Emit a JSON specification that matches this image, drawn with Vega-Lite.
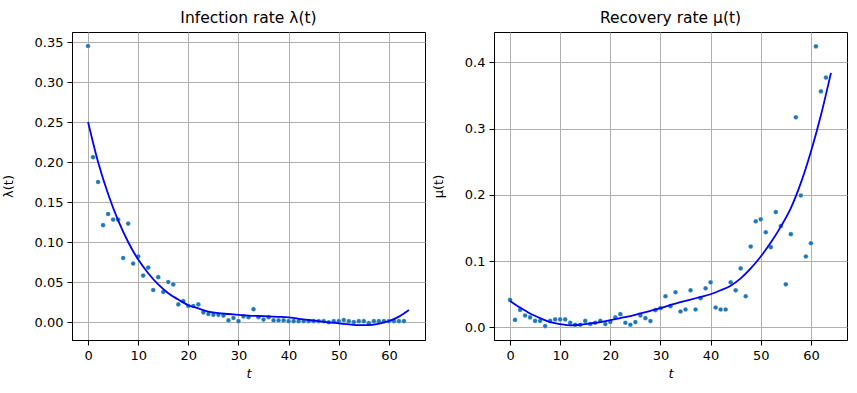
{
  "$schema": "https://vega.github.io/schema/vega-lite/v6.json",
  "background": "white",
  "padding": {"left": 2, "top": 10, "right": 5, "bottom": 5},
  "spacing": 6,
  "config": {
    "font": "DejaVu Sans",
    "view": {"stroke": "black", "strokeWidth": 1},
    "axis": {
      "domainColor": "black", "domainWidth": 1,
      "tickColor": "black", "tickSize": 5, "tickWidth": 1,
      "labelPadding": 4, "labelFontSize": 13, "labelColor": "black", "labelFont": "DejaVu Sans",
      "gridColor": "#b0b0b0", "gridWidth": 1, "gridOpacity": 1,
      "titleFontSize": 13, "titleFontWeight": "normal", "titleColor": "black", "titleFont": "DejaVu Sans"
    },
    "title": {"fontSize": 15.5, "fontWeight": "normal", "font": "DejaVu Sans", "color": "black", "offset": 6}
  },
  "datasets": {
    "lam_pts": [
      {"t": 0, "v": 0.345}, {"t": 1, "v": 0.206}, {"t": 2, "v": 0.175}, {"t": 3, "v": 0.121},
      {"t": 4, "v": 0.135}, {"t": 5, "v": 0.128}, {"t": 6, "v": 0.128}, {"t": 7, "v": 0.080},
      {"t": 8, "v": 0.123}, {"t": 9, "v": 0.073}, {"t": 10, "v": 0.082}, {"t": 11, "v": 0.058},
      {"t": 12, "v": 0.068}, {"t": 13, "v": 0.040}, {"t": 14, "v": 0.056}, {"t": 15, "v": 0.0375},
      {"t": 16, "v": 0.050}, {"t": 17, "v": 0.047}, {"t": 18, "v": 0.022}, {"t": 19, "v": 0.026},
      {"t": 20, "v": 0.020}, {"t": 21, "v": 0.020}, {"t": 22, "v": 0.022}, {"t": 23, "v": 0.012},
      {"t": 24, "v": 0.010}, {"t": 25, "v": 0.009}, {"t": 26, "v": 0.009}, {"t": 27, "v": 0.008},
      {"t": 28, "v": 0.002}, {"t": 29, "v": 0.005}, {"t": 30, "v": 0.001}, {"t": 31, "v": 0.007},
      {"t": 32, "v": 0.006}, {"t": 33, "v": 0.016}, {"t": 34, "v": 0.006}, {"t": 35, "v": 0.003},
      {"t": 36, "v": 0.006}, {"t": 37, "v": 0.002}, {"t": 38, "v": 0.002}, {"t": 39, "v": 0.002},
      {"t": 40, "v": 0.001}, {"t": 41, "v": 0.001}, {"t": 42, "v": 0.001}, {"t": 43, "v": 0.001},
      {"t": 44, "v": 0.001}, {"t": 45, "v": 0.001}, {"t": 46, "v": 0.001}, {"t": 47, "v": 0.001},
      {"t": 48, "v": -0.0003}, {"t": 49, "v": 0.001}, {"t": 50, "v": 0.001}, {"t": 51, "v": 0.0025},
      {"t": 52, "v": 0.001}, {"t": 53, "v": 0.0}, {"t": 54, "v": 0.001}, {"t": 55, "v": 0.001},
      {"t": 56, "v": -0.0015}, {"t": 57, "v": 0.001}, {"t": 58, "v": 0.001}, {"t": 59, "v": 0.001},
      {"t": 60, "v": 0.001}, {"t": 61, "v": 0.001}, {"t": 62, "v": 0.001}, {"t": 63, "v": 0.001}
    ],
    "lam_fit": [
      {"t": 0, "v": 0.250}, {"t": 2, "v": 0.200}, {"t": 4, "v": 0.160}, {"t": 6, "v": 0.127},
      {"t": 8, "v": 0.100}, {"t": 10, "v": 0.078}, {"t": 12, "v": 0.061}, {"t": 14, "v": 0.047},
      {"t": 16, "v": 0.036}, {"t": 18, "v": 0.028}, {"t": 20, "v": 0.021}, {"t": 22, "v": 0.017},
      {"t": 24, "v": 0.013}, {"t": 26, "v": 0.011}, {"t": 28, "v": 0.010}, {"t": 30, "v": 0.009},
      {"t": 32, "v": 0.008}, {"t": 34, "v": 0.0075}, {"t": 36, "v": 0.007}, {"t": 38, "v": 0.0065},
      {"t": 40, "v": 0.0058}, {"t": 42, "v": 0.004}, {"t": 44, "v": 0.0025}, {"t": 46, "v": 0.001},
      {"t": 48, "v": -0.0005}, {"t": 50, "v": -0.0017}, {"t": 52, "v": -0.003}, {"t": 54, "v": -0.004},
      {"t": 56, "v": -0.004}, {"t": 58, "v": -0.002}, {"t": 60, "v": 0.001}, {"t": 62, "v": 0.0067},
      {"t": 64, "v": 0.015}
    ],
    "mu_pts": [
      {"t": 0, "v": 0.0415}, {"t": 1, "v": 0.0113}, {"t": 2, "v": 0.0264}, {"t": 3, "v": 0.018},
      {"t": 4, "v": 0.015}, {"t": 5, "v": 0.0098}, {"t": 6, "v": 0.0098}, {"t": 7, "v": 0.002},
      {"t": 8, "v": 0.0098}, {"t": 9, "v": 0.012}, {"t": 10, "v": 0.012}, {"t": 11, "v": 0.012},
      {"t": 12, "v": 0.007}, {"t": 13, "v": 0.004}, {"t": 14, "v": 0.004}, {"t": 15, "v": 0.0098},
      {"t": 16, "v": 0.005}, {"t": 17, "v": 0.007}, {"t": 18, "v": 0.0098}, {"t": 19, "v": 0.005},
      {"t": 20, "v": 0.008}, {"t": 21, "v": 0.015}, {"t": 22, "v": 0.020}, {"t": 23, "v": 0.007},
      {"t": 24, "v": 0.004}, {"t": 25, "v": 0.008}, {"t": 26, "v": 0.018}, {"t": 27, "v": 0.014},
      {"t": 28, "v": 0.0095}, {"t": 29, "v": 0.026}, {"t": 30, "v": 0.029}, {"t": 31, "v": 0.047},
      {"t": 32, "v": 0.032}, {"t": 33, "v": 0.053}, {"t": 34, "v": 0.024}, {"t": 35, "v": 0.027},
      {"t": 36, "v": 0.056}, {"t": 37, "v": 0.027}, {"t": 38, "v": 0.044}, {"t": 39, "v": 0.059},
      {"t": 40, "v": 0.068}, {"t": 41, "v": 0.030}, {"t": 42, "v": 0.027}, {"t": 43, "v": 0.027},
      {"t": 44, "v": 0.068}, {"t": 45, "v": 0.056}, {"t": 46, "v": 0.089}, {"t": 47, "v": 0.047},
      {"t": 48, "v": 0.122}, {"t": 49, "v": 0.160}, {"t": 50, "v": 0.163}, {"t": 51, "v": 0.1436},
      {"t": 52, "v": 0.121}, {"t": 53, "v": 0.174}, {"t": 54, "v": 0.153}, {"t": 55, "v": 0.065},
      {"t": 56, "v": 0.1406}, {"t": 57, "v": 0.317}, {"t": 58, "v": 0.199}, {"t": 59, "v": 0.107},
      {"t": 60, "v": 0.127}, {"t": 61, "v": 0.424}, {"t": 62, "v": 0.356}, {"t": 63, "v": 0.377}
    ],
    "mu_fit": [
      {"t": 0, "v": 0.040}, {"t": 2, "v": 0.030}, {"t": 4, "v": 0.021}, {"t": 6, "v": 0.014},
      {"t": 8, "v": 0.008}, {"t": 10, "v": 0.005}, {"t": 12, "v": 0.003}, {"t": 14, "v": 0.004},
      {"t": 16, "v": 0.006}, {"t": 18, "v": 0.008}, {"t": 20, "v": 0.011}, {"t": 22, "v": 0.014},
      {"t": 24, "v": 0.017}, {"t": 26, "v": 0.021}, {"t": 28, "v": 0.025}, {"t": 30, "v": 0.029},
      {"t": 32, "v": 0.034}, {"t": 34, "v": 0.038}, {"t": 36, "v": 0.042}, {"t": 38, "v": 0.046},
      {"t": 40, "v": 0.050}, {"t": 42, "v": 0.056}, {"t": 44, "v": 0.063}, {"t": 46, "v": 0.074},
      {"t": 48, "v": 0.089}, {"t": 50, "v": 0.107}, {"t": 52, "v": 0.128}, {"t": 54, "v": 0.152},
      {"t": 56, "v": 0.180}, {"t": 58, "v": 0.218}, {"t": 60, "v": 0.265}, {"t": 62, "v": 0.320},
      {"t": 64, "v": 0.384}
    ]
  },
  "hconcat": [
    {
      "width": 353, "height": 308,
      "title": "Infection rate λ(t)",
      "layer": [
        {
          "data": {"name": "lam_pts"},
          "mark": {"type": "circle", "size": 22, "color": "#1f77b4", "opacity": 1, "stroke": "white", "strokeWidth": 0.3},
          "encoding": {
            "x": {"field": "t", "type": "quantitative", "scale": {"domain": [-3.2, 67.2], "nice": false, "zero": false},
                  "axis": {"values": [0, 10, 20, 30, 40, 50, 60], "title": "t", "titleFontStyle": "italic", "titlePadding": 5}},
            "y": {"field": "v", "type": "quantitative", "scale": {"domain": [-0.0225, 0.3625], "nice": false, "zero": false},
                  "axis": {"values": [0, 0.05, 0.1, 0.15, 0.2, 0.25, 0.3, 0.35], "format": ".2f", "title": "λ(t)", "titlePadding": 18.5}}
          }
        },
        {
          "data": {"name": "lam_fit"},
          "mark": {"type": "line", "color": "#0000ff", "strokeWidth": 1.8, "interpolate": "monotone"},
          "encoding": {
            "x": {"field": "t", "type": "quantitative"},
            "y": {"field": "v", "type": "quantitative"}
          }
        }
      ]
    },
    {
      "width": 353, "height": 308,
      "title": "Recovery rate μ(t)",
      "layer": [
        {
          "data": {"name": "mu_pts"},
          "mark": {"type": "circle", "size": 22, "color": "#1f77b4", "opacity": 1, "stroke": "white", "strokeWidth": 0.3},
          "encoding": {
            "x": {"field": "t", "type": "quantitative", "scale": {"domain": [-3.2, 67.2], "nice": false, "zero": false},
                  "axis": {"values": [0, 10, 20, 30, 40, 50, 60], "title": "t", "titleFontStyle": "italic", "titlePadding": 5}},
            "y": {"field": "v", "type": "quantitative", "scale": {"domain": [-0.019, 0.4457], "nice": false, "zero": false},
                  "axis": {"values": [0, 0.1, 0.2, 0.3, 0.4], "format": ".1f", "title": "μ(t)", "titlePadding": 18.5}}
          }
        },
        {
          "data": {"name": "mu_fit"},
          "mark": {"type": "line", "color": "#0000ff", "strokeWidth": 1.8, "interpolate": "monotone"},
          "encoding": {
            "x": {"field": "t", "type": "quantitative"},
            "y": {"field": "v", "type": "quantitative"}
          }
        }
      ]
    }
  ]
}
